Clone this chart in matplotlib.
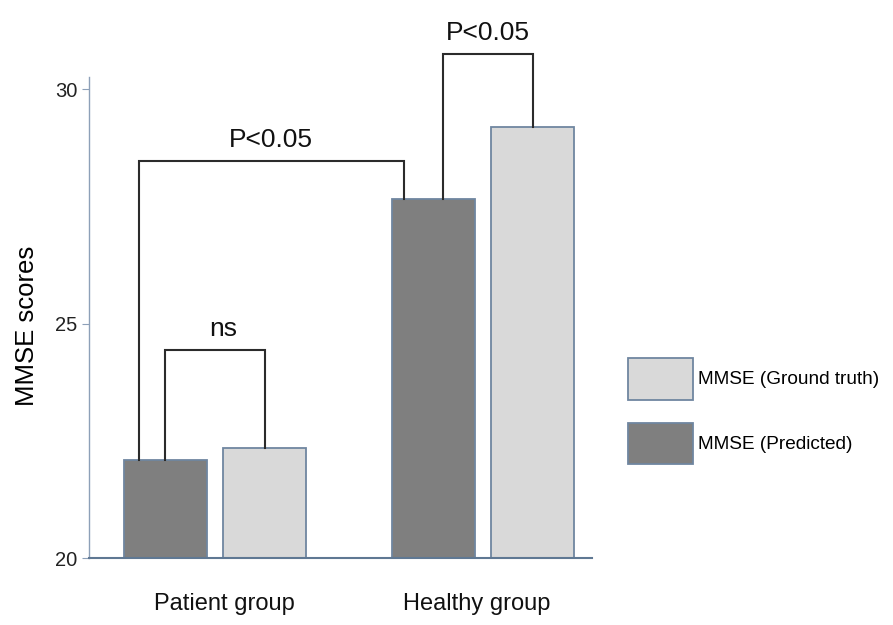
import numpy as np
import matplotlib.pyplot as plt

plt.rcParams['font.family'] = ['Liberation Sans', 'DejaVu Sans']

groups = ['Patient group', 'Healthy group']
mmse_predicted = [22.1, 27.65]
mmse_ground_truth = [22.35, 29.2]
y_ticks = [20, 25, 30]

# significance brackets: (left series, right series, group l, group r, level, text)
brackets = [
    ('pred', 'pred', 0, 1, 28.46, 'P<0.05'),
    ('pred', 'gt', 0, 0, 24.43, 'ns'),
    ('pred', 'gt', 1, 1, 30.75, 'P<0.05'),
]

fig = plt.figure(figsize=(8.93, 6.25), dpi=100)
ax = fig.add_axes([89/893, 1-558/625, (592-89)/893, (558-77)/625])

x = np.arange(len(groups))
w = 0.31
off = 0.185
edge = '#6f86a0'
b1 = ax.bar(x - off, np.array(mmse_predicted) - 20, w, bottom=20, color='#7f7f7f',
            edgecolor=edge, linewidth=1.3, label='MMSE (Predicted)')
b2 = ax.bar(x + off, np.array(mmse_ground_truth) - 20, w, bottom=20, color='#d9d9d9',
            edgecolor=edge, linewidth=1.3, label='MMSE (Ground truth)')

ax.set_xlim(-0.47, 1.407)
ax.set_ylim(20, 30.26)
ax.set_yticks(y_ticks)
ax.tick_params(axis='y', labelsize=14.5, length=5, color='#8da0b8', labelcolor='#222222')
ax.set_xticks([0.037, 0.978])
ax.set_xticklabels(groups)
ax.tick_params(axis='x', labelsize=17, length=0, pad=25, labelcolor='#111111')
ax.set_ylabel('MMSE scores', fontsize=18.5)
ax.yaxis.set_label_coords(-0.1, 0.482)

for s in ['top', 'right']:
    ax.spines[s].set_visible(False)
ax.spines['left'].set_color('#8da0b8')
ax.spines['left'].set_linewidth(1.0)
ax.spines['bottom'].set_color('#5f7893')
ax.spines['bottom'].set_linewidth(1.5)

vals = {'pred': mmse_predicted, 'gt': mmse_ground_truth}
xpos = {'pred': x - off, 'gt': x + off}
for i, (sl, sr, gl, gr, lvl, txt) in enumerate(brackets):
    xl = xpos[sl][gl]
    xr = xpos[sr][gr]
    tx = 0.0
    if i == 0:
        xl -= 0.1
        xr -= 0.11
    elif i == 1:
        tx = 0.03
    else:
        xl += 0.035
    yl = vals[sl][gl]
    yr = vals[sr][gr]
    ax.plot([xl, xl, xr, xr], [yl, lvl, lvl, yr], color='#2b2b2b', lw=1.5,
            clip_on=False, solid_joinstyle='miter')
    ax.text((xl + xr) / 2 + tx, lvl + 0.2, txt, ha='center', va='bottom', fontsize=19,
            color='#111111', clip_on=False)

fig.legend([b2, b1], ['MMSE (Ground truth)', 'MMSE (Predicted)'],
           loc='upper left', bbox_to_anchor=(628/893, 1-358/625), frameon=False,
           fontsize=13.7, handlelength=3.4, handleheight=3.0, labelspacing=1.2,
           handletextpad=0.3, borderpad=0, borderaxespad=0)

fig.savefig('out.png', dpi=100)
